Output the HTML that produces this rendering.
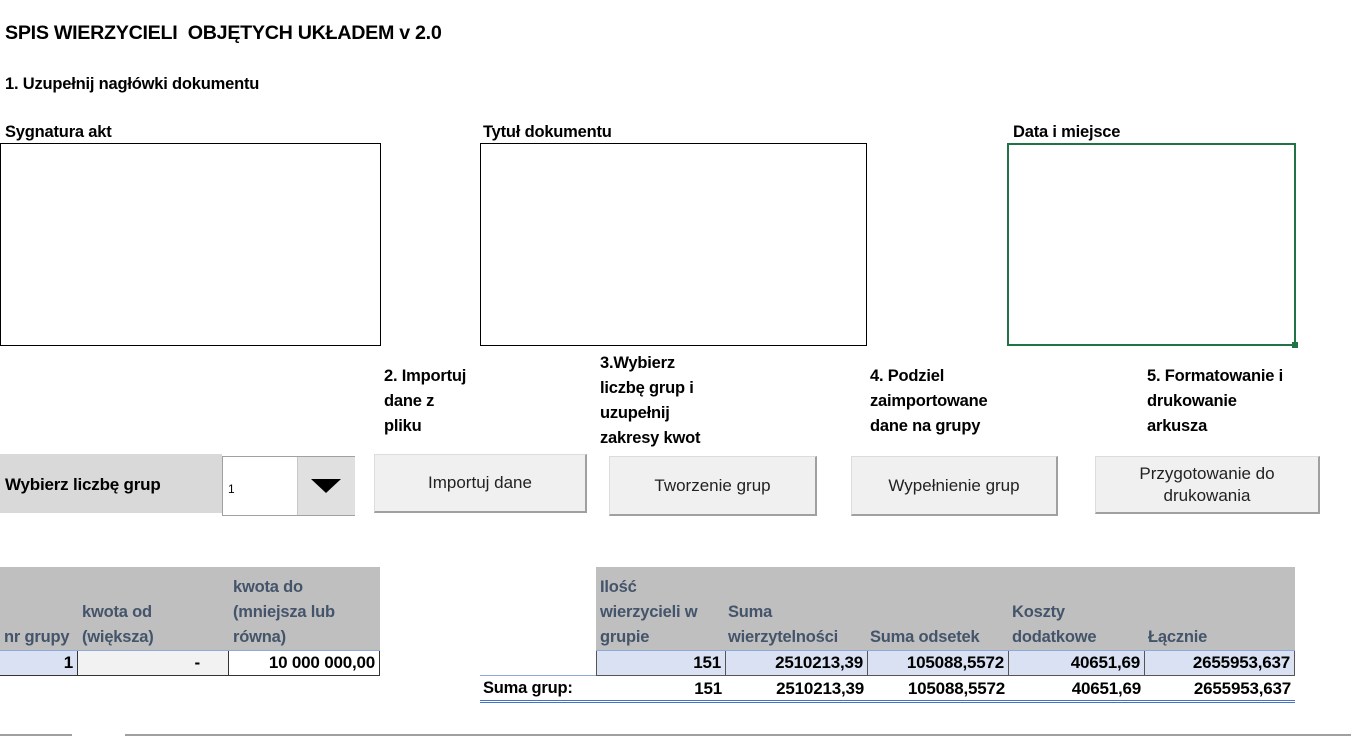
<!DOCTYPE html>
<html><head><meta charset="utf-8"><style>
body{margin:0;width:1351px;height:737px;background:#fff;position:relative;overflow:hidden;font-family:"Liberation Sans",sans-serif;}
.a{position:absolute;white-space:nowrap;}
.b{font-weight:bold;font-size:16.5px;color:#000;letter-spacing:-0.2px}
.box{position:absolute;border:1px solid #000;background:#fff;box-sizing:border-box}
.btn{position:absolute;background:#f0f0f0;border:1px solid #dcdcdc;border-right:2px solid #a0a0a0;border-bottom:2px solid #a0a0a0;box-sizing:border-box;display:flex;align-items:center;justify-content:center;text-align:center;font-size:17px;color:#222;line-height:22px}
.h{position:absolute;font-weight:bold;font-size:16.5px;color:#44546a;line-height:25px;letter-spacing:-0.2px}
.c{position:absolute;box-sizing:border-box;font-weight:bold;font-size:17px;text-align:right;padding-right:4px;line-height:24px;letter-spacing:-0.2px}
</style></head><body>
<div class="a" style="left:5px;top:22px;font-weight:bold;font-size:19.7px;letter-spacing:-0.3px">SPIS WIERZYCIELI&nbsp; OBJĘTYCH UKŁADEM v 2.0</div>
<div class="a b" style="left:5px;top:75px">1. Uzupełnij nagłówki dokumentu</div>
<div class="a b" style="left:5px;top:123px">Sygnatura akt</div>
<div class="a b" style="left:483px;top:123px">Tytuł dokumentu</div>
<div class="a b" style="left:1013px;top:123px">Data i miejsce</div>
<div class="box" style="left:0;top:143px;width:381px;height:203px"></div>
<div class="box" style="left:480px;top:143px;width:387px;height:203px"></div>
<div class="box" style="left:1007px;top:143px;width:289px;height:203px;border:2px solid #217346"></div>
<div class="a" style="left:1292px;top:342px;width:6px;height:6px;background:#217346"></div>

<div class="a b" style="left:384px;top:364px;line-height:25px">2. Importuj<br>dane z<br>pliku</div>
<div class="a b" style="left:600px;top:351px;line-height:25px">3.Wybierz<br>liczbę grup i<br>uzupełnij<br>zakresy kwot</div>
<div class="a b" style="left:870px;top:364px;line-height:25px">4. Podziel<br>zaimportowane<br>dane na grupy</div>
<div class="a b" style="left:1147px;top:364px;line-height:25px">5. Formatowanie i<br>drukowanie<br>arkusza</div>

<div class="a" style="left:0;top:454px;width:222px;height:59px;background:#d9d9d9"></div>
<div class="a b" style="left:5px;top:475px;font-size:17px">Wybierz liczbę grup</div>
<div class="a" style="left:222px;top:456px;width:133px;height:60px;border:1px solid #a0a0a0;box-sizing:border-box;background:#fff"></div>
<div class="a" style="left:297px;top:457px;width:57px;height:58px;background:#e0e0e0;border-left:1px solid #c8c8c8"></div>
<div class="a" style="left:311px;top:479px;width:0;height:0;border-left:15px solid transparent;border-right:15px solid transparent;border-top:14px solid #000"></div>
<div class="a" style="left:228px;top:482px;font-size:12px">1</div>

<div class="btn" style="left:374px;top:454px;width:213px;height:59px">Importuj dane</div>
<div class="btn" style="left:609px;top:456px;width:208px;height:60px">Tworzenie grup</div>
<div class="btn" style="left:851px;top:456px;width:207px;height:60px">Wypełnienie grup</div>
<div class="btn" style="left:1095px;top:456px;width:225px;height:58px">Przygotowanie do<br>drukowania</div>

<div class="a" style="left:0;top:567px;width:380px;height:83px;background:#bfbfbf"></div>
<div class="h" style="left:4px;top:625px">nr grupy</div>
<div class="h" style="left:82px;top:600px">kwota od<br>(większa)</div>
<div class="h" style="left:233px;top:575px">kwota do<br>(mniejsza lub<br>równa)</div>
<div class="a" style="left:0;top:650px;width:380px;height:1px;background:#8ea9db"></div>
<div class="c" style="left:0;top:651px;width:78px;height:25px;background:#d9e1f2;border-right:1px solid #333;border-bottom:1px solid #333">1</div>
<div class="c" style="left:78px;top:651px;width:151px;height:25px;background:#f2f2f2;border-right:1px solid #333;border-bottom:1px solid #333;padding-right:28px">-</div>
<div class="c" style="left:229px;top:651px;width:151px;height:25px;background:#fff;border-right:1px solid #333;border-bottom:1px solid #333">10 000 000,00</div>

<div class="a" style="left:596px;top:567px;width:699px;height:83px;background:#bfbfbf"></div>
<div class="h" style="left:600px;top:575px">Ilość<br>wierzycieli w<br>grupie</div>
<div class="h" style="left:728px;top:600px">Suma<br>wierzytelności</div>
<div class="h" style="left:870px;top:625px">Suma odsetek</div>
<div class="h" style="left:1012px;top:600px">Koszty<br>dodatkowe</div>
<div class="h" style="left:1148px;top:625px">Łącznie</div>
<div class="a" style="left:596px;top:650px;width:699px;height:1px;background:#8ea9db"></div>
<div class="c" style="left:596px;top:651px;width:130px;height:25px;background:#d9e1f2;border:1px solid #555;border-top:none">151</div>
<div class="c" style="left:726px;top:651px;width:142px;height:25px;background:#d9e1f2;border-right:1px solid #555;border-bottom:1px solid #555">2510213,39</div>
<div class="c" style="left:868px;top:651px;width:141px;height:25px;background:#d9e1f2;border-right:1px solid #555;border-bottom:1px solid #555">105088,5572</div>
<div class="c" style="left:1009px;top:651px;width:136px;height:25px;background:#d9e1f2;border-right:1px solid #555;border-bottom:1px solid #555">40651,69</div>
<div class="c" style="left:1145px;top:651px;width:150px;height:25px;background:#d9e1f2;border-right:1px solid #555;border-bottom:1px solid #555">2655953,637</div>
<div class="a" style="left:480px;top:675px;width:116px;height:1px;background:#8ea9db"></div>
<div class="a b" style="left:483px;top:679px;font-size:16.5px">Suma grup:</div>
<div class="c" style="left:596px;top:677px;width:130px">151</div>
<div class="c" style="left:726px;top:677px;width:142px">2510213,39</div>
<div class="c" style="left:868px;top:677px;width:141px">105088,5572</div>
<div class="c" style="left:1009px;top:677px;width:136px">40651,69</div>
<div class="c" style="left:1145px;top:677px;width:150px">2655953,637</div>
<div class="a" style="left:480px;top:700px;width:815px;height:3px;border-top:1px solid #4472c4;border-bottom:1px solid #4472c4;box-sizing:border-box"></div>

<div class="a" style="left:0;top:734px;width:72px;height:2px;background:#a0a0a0"></div>
<div class="a" style="left:125px;top:734px;width:1226px;height:2px;background:#a0a0a0"></div>
</body></html>
